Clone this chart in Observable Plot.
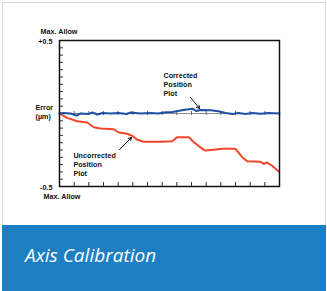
<!DOCTYPE html>
<html>
<head>
<meta charset="utf-8">
<script src="https://cdn.jsdelivr.net/npm/d3@7"></script>
<script src="https://cdn.jsdelivr.net/npm/@observablehq/plot@0.6"></script>
<style>
  html, body { margin: 0; padding: 0; background: #fff; }
  #card { position: absolute; left: 2px; top: 2px; width: 322px; height: 289px; border: 1px solid #d6d6d6; border-bottom: none; background: #fff; }
  #chart { position: absolute; left: 0; top: 0; }
  #banner { position: absolute; left: 2px; top: 225px; width: 324px; height: 66px; background: #1c7fc4; }
  #banner span { position: absolute; left: 23px; top: 21px; font-family: "Open Sans", sans-serif; font-style: italic; font-size: 19px; line-height: 19px; color: #fff; white-space: nowrap; }
</style>
</head>
<body>
<div id="card"></div>
<div id="chart"></div>
<div id="banner"><span>Axis Calibration</span></div>
<script>
// Uncorrected position plot (red)
const redX = [0, 0.52, 1.21, 1.89, 2.34, 2.80, 3.70, 4.04, 4.62, 4.96, 5.30, 5.75, 6.89, 7.68, 8.03, 8.82, 9.16, 9.84, 9.95, 10.64, 11.20, 12.00, 12.46, 12.80, 13.70, 13.93, 14.16, 14.50, 14.73, 14.95];
const redY = [0, -0.030, -0.053, -0.062, -0.094, -0.103, -0.108, -0.130, -0.139, -0.153, -0.180, -0.194, -0.194, -0.190, -0.162, -0.162, -0.197, -0.249, -0.253, -0.247, -0.242, -0.242, -0.299, -0.327, -0.331, -0.345, -0.336, -0.358, -0.379, -0.397];
// Corrected position plot (blue)
const blueX = [0, 0.27, 0.75, 1.16, 1.43, 1.98, 2.25, 2.59, 2.93, 3.48, 4.02, 4.57, 4.84, 5.52, 6.20, 6.75, 7.23, 7.70, 8.25, 8.80, 9.07, 9.34, 9.61, 10.30, 10.84, 11.32, 11.80, 12.20, 12.68, 13.16, 13.70, 14.25, 15];
const blueY = [0, 0.003, 0, -0.014, 0, -0.003, 0.007, -0.007, 0.003, 0, 0.003, -0.003, 0.007, 0, 0.003, 0, 0.009, 0.010, 0.021, 0.029, 0.032, 0.017, 0.024, 0.023, 0.016, 0.003, -0.003, 0.003, -0.003, 0.003, -0.002, 0.003, 0];
// Tick positions
const xTicks = d3.range(0, 16, 1);
const yTicks = d3.range(-0.5, 0.501, 0.05);
// Labels
const topLabel = "Max. Allow";
const topValue = "+0.5";
const bottomValue = "-0.5";
const bottomLabel = "Max. Allow";
const yTitle = "Error\n(µm)";
const correctedLabel = "Corrected\nPosition\nPlot";
const uncorrectedLabel = "Uncorrected\nPosition\nPlot";

const red = redX.map((x, i) => ({x, y: redY[i]}));
const blue = blueX.map((x, i) => ({x, y: blueY[i]}));
const font = {fontSize: 7.2, fontWeight: "bold", fill: "#111", fontFamily: "Liberation Sans, Arial, sans-serif"};

const chart = Plot.plot({
  width: 327,
  height: 225,
  marginLeft: 59,
  marginRight: 48,
  marginTop: 40,
  marginBottom: 39,
  x: {domain: [0, 15], axis: null},
  y: {domain: [-0.5, 0.5], axis: null},
  style: {background: "transparent", overflow: "visible"},
  marks: [
    Plot.ruleY([0], {stroke: "#8a8a8a", strokeWidth: 1}),
    Plot.tickX(xTicks, {x: d => d, insetTop: 71, insetBottom: 71, stroke: "#666", strokeWidth: 1}),
    Plot.tickY(yTicks, {y: d => d, insetRight: 216, stroke: "#333", strokeWidth: 1}),
    Plot.tickX(xTicks, {x: d => d, insetTop: 142, stroke: "#333", strokeWidth: 1}),
    Plot.line(red, {x: "x", y: "y", stroke: "#f2452a", strokeWidth: 2, curve: "linear"}),
    Plot.line(blue, {x: "x", y: "y", stroke: "#1f4ea3", strokeWidth: 2, curve: "linear"}),
    Plot.frame({stroke: "#111", strokeWidth: 1.5}),
    Plot.text([topLabel], {x: 0, y: 0.5, dx: -19, dy: -9, textAnchor: "start", ...font}),
    Plot.text([topValue], {x: 0, y: 0.5, dx: -7, dy: 1, textAnchor: "end", ...font}),
    Plot.text([bottomValue], {x: 0, y: -0.5, dx: -7, dy: 1, textAnchor: "end", ...font}),
    Plot.text([bottomLabel], {x: 0, y: -0.5, dx: -16, dy: 10, textAnchor: "start", ...font}),
    Plot.text([yTitle], {x: 0, y: 0, dx: -24, dy: -1.5, textAnchor: "start", lineHeight: 1.17, ...font}),
    Plot.text([correctedLabel], {x: 7.09, y: 0.199, textAnchor: "start", lineHeight: 1.25, ...font}),
    Plot.text([uncorrectedLabel], {x: 0.95, y: -0.349, textAnchor: "start", lineHeight: 1.25, ...font}),
    Plot.arrow([{x1: 8.93, y1: 0.11, x2: 9.55, y2: 0.034}], {x1: "x1", y1: "y1", x2: "x2", y2: "y2", stroke: "#111", strokeWidth: 1, headLength: 5}),
    Plot.arrow([{x1: 4.09, y1: -0.247, x2: 4.91, y2: -0.164}], {x1: "x1", y1: "y1", x2: "x2", y2: "y2", stroke: "#111", strokeWidth: 1, headLength: 5})
  ]
});
document.getElementById("chart").appendChild(chart);
</script>
</body>
</html>
